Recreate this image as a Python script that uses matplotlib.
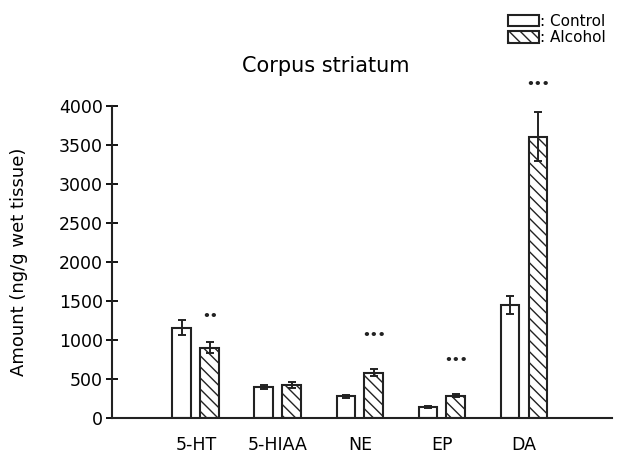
import numpy as np
import matplotlib.pyplot as plt

# values (ng/g wet tissue)
groups = ['5-HT', '5-HIAA', 'NE', 'EP', 'DA']
control = [1160, 400, 280, 140, 1450]
control_err = [100, 25, 20, 10, 120]
alcohol = [900, 425, 585, 290, 3610]
alcohol_err = [70, 35, 45, 20, 310]
stars = ['••', '', '•••', '•••', '•••']
star_y = [1300, 0, 1060, 740, 4280]

plt.rcParams['font.family'] = ['DejaVu Sans']

fig = plt.figure(figsize=(6.23, 4.54), dpi=100)
ax = fig.add_axes([0.18, 0.079, 0.802, 0.687])

x = np.arange(len(groups))
w = 0.23
off = 0.17

ax.bar(x - off, control, w, color='white', edgecolor='#222222', linewidth=1.5,
       label=': Control')
ax.bar(x + off, alcohol, w, color='white', edgecolor='#222222', linewidth=1.5,
       hatch='\\\\\\', label=': Alcohol')
ax.errorbar(x - off, control, yerr=control_err, fmt='none', ecolor='#222222',
            elinewidth=1.4, capsize=3, capthick=1.4, clip_on=False)
ax.errorbar(x + off, alcohol, yerr=alcohol_err, fmt='none', ecolor='#222222',
            elinewidth=1.4, capsize=3, capthick=1.4, clip_on=False)

# significance marks above the alcohol bars
for i, s in enumerate(stars):
    if s:
        ax.text(x[i] + off, star_y[i], s, ha='center', va='center',
                fontsize=9, fontweight='bold', color='#222222', clip_on=False)

ax.set_xlim(-1.02, 5.07)
ax.set_ylim(0, 4000)
ax.set_yticks(np.arange(0, 4001, 500))
ax.set_xticks(x)
ax.set_xticklabels(groups, fontsize=12.5)
ax.tick_params(axis='x', length=0, pad=13)
ax.tick_params(axis='y', direction='inout', length=9, width=1.3, labelsize=12.5,
               pad=2)
for sp in ['top', 'right']:
    ax.spines[sp].set_visible(False)
for sp in ['left', 'bottom']:
    ax.spines[sp].set_linewidth(1.5)
    ax.spines[sp].set_color('#222222')

ax.set_ylabel('Amount (ng/g wet tissue)', fontsize=13)
ax.yaxis.set_label_coords(-0.168, 0.5)
fig.text(0.523, 0.841, 'Corpus striatum', ha='center', va='baseline',
         fontsize=15)

fig.legend(loc='upper right', bbox_to_anchor=(0.995, 1.0), frameon=False,
           fontsize=11, handlelength=2.0, handleheight=0.75, handletextpad=0.1,
           labelspacing=0.1)

fig.savefig('out.png', dpi=100)
